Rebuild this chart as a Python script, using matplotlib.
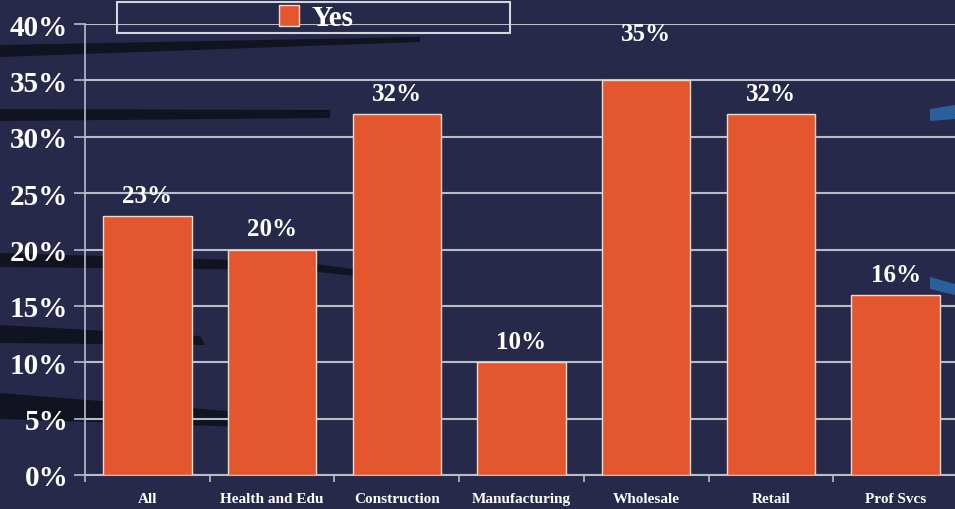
import matplotlib.pyplot as plt
import numpy as np
from matplotlib.patches import Rectangle, Polygon

# share of firms answering "Yes", by sector (%)
sectors = ['All', 'Health and Edu', 'Construction', 'Manufacturing',
           'Wholesale', 'Retail', 'Prof Svcs']
yes_pct = [23, 20, 32, 10, 35, 32, 16]
y_ticks = [0, 5, 10, 15, 20, 25, 30, 35, 40]

bg = '#262949'
bar_color = '#e4572e'
grid_color = '#b9bccb'
serif = ['Liberation Serif', 'DejaVu Serif']

fig = plt.figure(figsize=(9.55, 5.10), dpi=100, facecolor=bg)

# dark streaks in the slide background (drawn behind the axes)
W, H = 955, 510
streaks = [
    [(0, 46), (420, 38), (420, 43), (0, 58)],
    [(0, 110), (330, 111), (330, 119), (0, 122)],
    [(0, 254), (300, 263), (420, 279), (420, 284), (300, 271), (0, 268)],
    [(0, 326), (200, 337), (205, 346), (0, 344)],
    [(0, 394), (240, 413), (245, 428), (0, 420)],
]
for pts in streaks:
    fig.patches.append(Polygon([(x / W, 1 - y / H) for x, y in pts],
                               closed=True, transform=fig.transFigure,
                               facecolor='#0a0a10', edgecolor='none',
                               alpha=0.7, zorder=-1))
blue_streaks = [
    [(930, 110), (955, 106), (955, 120), (930, 122)],
    [(930, 278), (955, 285), (955, 296), (930, 290)],
]
for pts in blue_streaks:
    fig.patches.append(Polygon([(x / W, 1 - y / H) for x, y in pts],
                               closed=True, transform=fig.transFigure,
                               facecolor='#2a6db0', edgecolor='none',
                               alpha=0.8, zorder=-1))

ax = fig.add_axes([85 / W, 34 / H, 873 / W, 451 / H])
ax.set_facecolor('none')

x = np.arange(len(sectors))
bars = ax.bar(x, yes_pct, width=0.71, color=bar_color, edgecolor='#eadccd',
              linewidth=1.0, zorder=3, label='Yes')

for xi, v in zip(x, yes_pct):
    # the tallest bar's label sits higher up, mid-way to the top gridline
    lift = 3.1 if v == max(yes_pct) else 0.8
    ax.text(xi, v + lift, f'{v}%', ha='center', va='bottom', color='white',
            fontsize=18, fontweight='bold', family=serif, zorder=4)

ax.set_xlim(-0.5, len(sectors) - 0.5)
ax.set_ylim(0, 40)
ax.set_yticks(y_ticks)
ax.set_yticklabels([f'{t}%' for t in y_ticks])
ax.yaxis.grid(True, color=grid_color, linewidth=1.5, zorder=1)
ax.set_axisbelow(True)

ax.set_xticks(x)
ax.set_xticklabels(sectors)
ax.set_xticks(np.arange(len(sectors) + 1) - 0.5, minor=True)
ax.tick_params(axis='x', which='major', length=0, pad=12)
ax.tick_params(axis='x', which='minor', length=5, color=grid_color, width=1.2)
ax.tick_params(axis='y', length=8, color=grid_color, width=1.2, pad=4)

for lbl in ax.get_yticklabels():
    lbl.set_fontfamily(serif)
    lbl.set_fontsize(21)
    lbl.set_fontweight('bold')
    lbl.set_color('white')
for lbl in ax.get_xticklabels():
    lbl.set_fontfamily(serif)
    lbl.set_fontsize(11)
    lbl.set_fontweight('bold')
    lbl.set_color('white')

for side in ['top', 'right']:
    ax.spines[side].set_visible(False)
ax.spines['left'].set_color(grid_color)
ax.spines['left'].set_linewidth(1.2)
ax.spines['bottom'].set_color(grid_color)
ax.spines['bottom'].set_linewidth(1.5)

# legend box above the plot
fig.patches.append(Rectangle((117 / W, 1 - 34 / H), 393 / W, 31 / H,
                             transform=fig.transFigure, facecolor='none',
                             edgecolor='#d4d6dc', linewidth=1.5, zorder=5))
fig.legend(handles=[bars], labels=['Yes'], loc='center',
           bbox_to_anchor=(316 / W, 1 - 19 / H), frameon=False,
           prop={'family': serif, 'size': 21, 'weight': 'bold'},
           labelcolor='white', handlelength=0.7, handleheight=0.7,
           handletextpad=0.4)

fig.savefig('out.png', dpi=100, facecolor=bg)
